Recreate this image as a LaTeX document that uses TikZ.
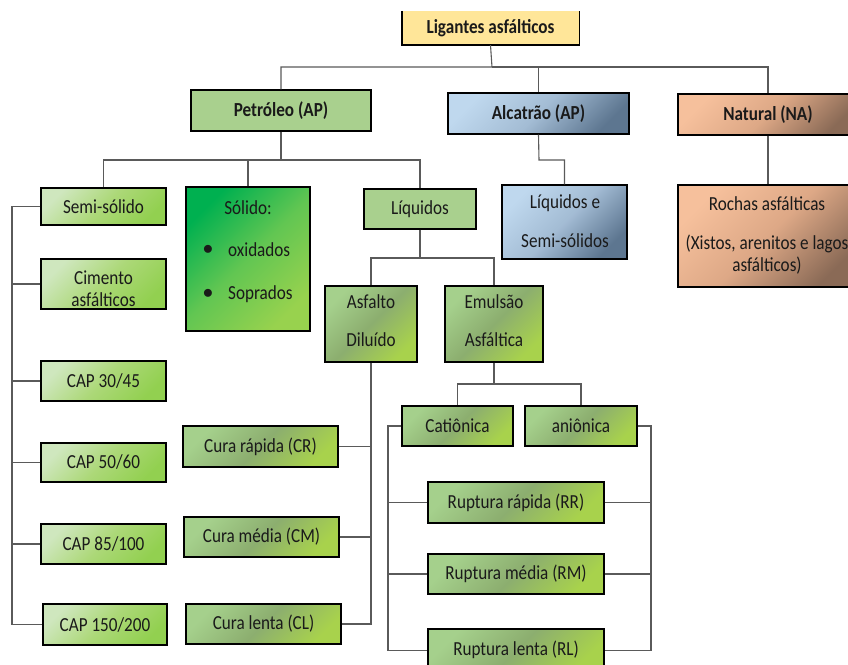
\documentclass[tikz,border=0pt]{standalone}
\usepackage{fontspec}
\setmainfont{Carlito}[FakeStretch=0.86]
\definecolor{ligY}{HTML}{FFE699}
\definecolor{petG}{HTML}{A9D08E}
\definecolor{alcA}{HTML}{BFD8EE}
\definecolor{alcM}{HTML}{A3BCD4}
\definecolor{alcB}{HTML}{5D7690}
\definecolor{natA}{HTML}{F6C09C}
\definecolor{natM}{HTML}{DDA886}
\definecolor{natB}{HTML}{8A6A56}
\definecolor{semA}{HTML}{CFE7BE}
\definecolor{semM}{HTML}{ACD878}
\definecolor{semB}{HTML}{92D050}
\definecolor{solA}{HTML}{00B050}
\definecolor{solM}{HTML}{62C652}
\definecolor{solB}{HTML}{98D24E}
\definecolor{dgA}{HTML}{A5D08C}
\definecolor{dgM}{HTML}{8CAE6F}
\definecolor{dgB}{HTML}{A8D24C}
\definecolor{lineC}{HTML}{5A5A5A}
\definecolor{txtC}{HTML}{1A1A1A}
\newcommand\mybox[7]{\node[#6, minimum width={(#4-#2)*1bp}, minimum height={(#5-#3)*1bp}] (#1) at ({(#2+#4)/2},{(#3+#5)/2}) {#7};}
\tikzset{
  box/.style={rectangle, draw=black, line width=1.4bp, inner sep=0pt, text=txtC, font=\fontsize{20}{22}\selectfont},
  boldbox/.style={box, font=\fontsize{20}{22}\selectfont\bfseries},
  ligbox/.style={rectangle, fill=ligY, inner sep=0pt, text=txtC, font=\fontsize{20}{22}\selectfont\bfseries},
  petbox/.style={boldbox, fill=petG},
  alcbox/.style={boldbox, top color=alcA, bottom color=alcB, middle color=alcM, shading angle=45},
  natbox/.style={boldbox, top color=natA, bottom color=natB, middle color=natM, shading angle=45},
  lqbox/.style={box, top color=alcA, bottom color=alcB, middle color=alcM, shading angle=45},
  rcbox/.style={box, top color=natA, bottom color=natB, middle color=natM, shading angle=45},
  sembox/.style={box, top color=semA, bottom color=semB, middle color=semM, shading angle=45},
  solbox/.style={box, top color=solA, bottom color=solB, middle color=solM, shading angle=45},
  dgbox/.style={box, top color=dgA, bottom color=dgB, middle color=dgM, shading angle=45},
  flatbox/.style={box, fill=petG},
  txt/.style={inner sep=0pt, text=txtC, font=\fontsize{20}{22}\selectfont},
  conn/.style={draw=lineC, line width=1.1bp}
}
\begin{document}
\begin{tikzpicture}[x=1bp,y=-1bp]
\useasboundingbox (0,0) rectangle (848,665);
\clip (0,0) rectangle (848,665);
\fill[white] (0,0) rectangle (848,665);

% level 0
\mybox{lig}{402}{11}{579}{45}{ligbox}{Ligantes asfálticos}
\draw[black, line width=1.4bp] (lig.north west) |- (lig.south east) -- (lig.north east);

% level 1
\mybox{pet}{191}{90}{371}{131}{petbox}{Petróleo (AP)}
\mybox{alc}{448}{93}{629}{134}{alcbox}{Alcatrão (AP)}
\mybox{nat}{678}{94}{858}{135}{natbox}{Natural (NA)}

% level 2
\mybox{semi}{41}{188}{166}{225}{sembox}{Semi-sólido}
\mybox{cim}{41}{259}{166}{309}{sembox}{}
\node[txt] (cimT1) at (103.5,278) {Cimento};
\node[txt] (cimT2) at (103.5,300) {asfálticos};
\mybox{cap30}{41}{361}{166}{401}{sembox}{CAP 30/45}
\mybox{cap50}{41}{443}{166}{482}{sembox}{CAP 50/60}
\mybox{cap85}{41}{524}{166}{564}{sembox}{CAP 85/100}
\mybox{cap150}{43}{604}{167}{645}{sembox}{CAP 150/200}

\mybox{sol}{186}{187}{310}{331}{solbox}{}
\node[txt] (solT1) at (248,208) {Sólido:};
\node[txt] (solB1) at (208,250) {$\bullet$};
\node[txt, anchor=west] (solT2) at (228,250) {oxidados};
\node[txt] (solB2) at (208,294) {$\bullet$};
\node[txt, anchor=west] (solT3) at (228,294) {Soprados};

\mybox{liq}{364}{189}{476}{229}{flatbox}{Líquidos}
\mybox{asf}{325}{286}{417}{362}{dgbox}{}
\node[txt] (asfT1) at (371,302) {Asfalto};
\node[txt] (asfT2) at (371,340) {Diluído};
\mybox{emu}{445}{286}{543}{362}{dgbox}{}
\node[txt] (emuT1) at (494,302) {Emulsão};
\node[txt] (emuT2) at (494,340) {Asfáltica};

\mybox{liqe}{502}{185}{627}{259}{lqbox}{}
\node[txt] (liqeT1) at (565,203) {Líquidos e};
\node[txt] (liqeT2) at (565,241) {Semi-sólidos};

\mybox{roc}{678}{185}{858}{287}{rcbox}{}
\node[txt] (rocT1) at (767,204) {Rochas asfálticas};
\node[txt] (rocT2) at (767,244) {(Xistos, arenitos e lagos};
\node[txt] (rocT3) at (767,266) {asfálticos)};

\mybox{cr}{183}{426}{338}{467}{dgbox}{Cura rápida (CR)}
\mybox{cm}{184}{517}{339}{557}{dgbox}{Cura média (CM)}
\mybox{cl}{186}{604}{341}{644}{dgbox}{Cura lenta (CL)}

\mybox{cat}{402}{406}{513}{446}{dgbox}{Catiônica}
\mybox{ani}{525}{406}{637}{446}{dgbox}{aniônica}
\mybox{rr}{428}{482}{604}{523}{dgbox}{Ruptura rápida (RR)}
\mybox{rm}{428}{554}{604}{594}{dgbox}{Ruptura média (RM)}
\mybox{rl}{428}{629}{604}{672}{dgbox}{}
\node[txt] (rlT) at (516,650) {Ruptura lenta (RL)};

% connectors
\coordinate (j1) at (492,67);
\draw[conn] (lig.south) -- (j1) -| (pet.north);
\draw[conn] (j1) -| (alc.north);
\draw[conn] (j1) -| (nat.north);

\coordinate (j2) at (281,160);
\draw[conn] (pet.south) -- (j2) -| (semi.north);
\draw[conn] (j2) -| (sol.north);
\draw[conn] (j2) -| (liq.north);

\coordinate (j3) at (539,160);
\draw[conn] (alc.south) -- (j3) -| (liqe.north);
\draw[conn] (nat.south) -- (roc.north);

\coordinate (j4) at (420,258);
\draw[conn] (liq.south) -- (j4) -| (asf.north);
\draw[conn] (j4) -| (emu.north);

\coordinate (j5) at (494,384);
\draw[conn] (emu.south) -- (j5) -| (cat.north);
\draw[conn] (j5) -| (ani.north);

\coordinate (bus1) at (12,0);
\draw[conn] (semi.west) -- (semi.west -| bus1) |- (cap150.west);
\draw[conn] (cim.west) -- (cim.west -| bus1);
\draw[conn] (cap30.west) -- (cap30.west -| bus1);
\draw[conn] (cap50.west) -- (cap50.west -| bus1);
\draw[conn] (cap85.west) -- (cap85.west -| bus1);

\draw[conn] (asf.south) |- (cl.east);
\draw[conn] (cr.east) -- (cr.east -| asf.south);
\draw[conn] (cm.east) -- (cm.east -| asf.south);

\coordinate (bus3) at (388,0);
\draw[conn] (cat.west) -- (cat.west -| bus3) |- (rl.west);
\draw[conn] (rr.west) -- (rr.west -| bus3);
\draw[conn] (rm.west) -- (rm.west -| bus3);

\coordinate (bus4) at (651,0);
\draw[conn] (ani.east) -- (ani.east -| bus4) |- (rl.east);
\draw[conn] (rr.east) -- (rr.east -| bus4);
\draw[conn] (rm.east) -- (rm.east -| bus4);
\end{tikzpicture}
\end{document}
